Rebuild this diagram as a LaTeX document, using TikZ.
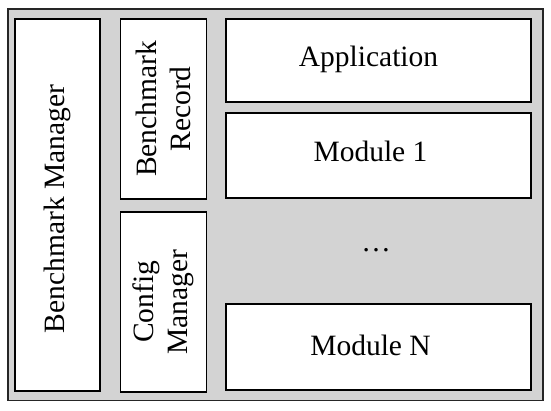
\documentclass[tikz,border=0pt]{standalone}
\usepackage{fontspec}
\setmainfont{Liberation Serif}
\begin{document}
\begin{tikzpicture}[x=1pt,y=1pt,
  box/.style={draw=black, fill=white, line width=1.2pt, inner sep=0pt, font=\fontsize{29.5}{34.5}\selectfont, align=center},
  single/.style={draw=black, fill=white, line width=1.2pt, inner sep=0pt},
  lbl/.style={font=\fontsize{29.5}{34.5}\selectfont, inner sep=0pt, anchor=base},
  vert/.style={box, rotate=90}]
\useasboundingbox (0,0) rectangle (551,411);
\node[draw=black!85, fill={rgb,255:red,211;green,211;blue,211}, line width=1.3pt, minimum width=535pt, minimum height=391.5pt, inner sep=0pt] (outer) at (275.5,206.25) {};
\node[single, minimum width=85pt, minimum height=372pt] (bm) at (57.5,206) {};
\node[font=\fontsize{29.5}{34.5}\selectfont, inner sep=0pt, rotate=90] (bmt) at ([yshift=-4pt]bm.center) {Benchmark Manager};
\node[vert, minimum width=180pt, minimum height=86pt] (br) at (163.5,302) {Benchmark\\Record};
\node[vert, minimum width=180pt, minimum height=86pt] (cm) at (163.5,109) {Config\\Manager};
\node[single, minimum width=305pt, minimum height=83pt] (app) at (378.5,350.5) {};
\node[single, minimum width=305pt, minimum height=85pt] (m1) at (378.5,255.5) {};
\node[single, minimum width=305pt, minimum height=86pt] (mn) at (378.5,64) {};
\node[lbl] (appt) at ([xshift=-10pt,yshift=-6.5pt]app.center) {Application};
\node[lbl] (m1t) at ([xshift=-8pt,yshift=-6.5pt]m1.center) {Module 1};
\node[lbl] (mnt) at ([xshift=-8pt,yshift=-9pt]mn.center) {Module N};
\node[lbl] (dots) at (376,159) {\ldots};
\end{tikzpicture}
\end{document}
